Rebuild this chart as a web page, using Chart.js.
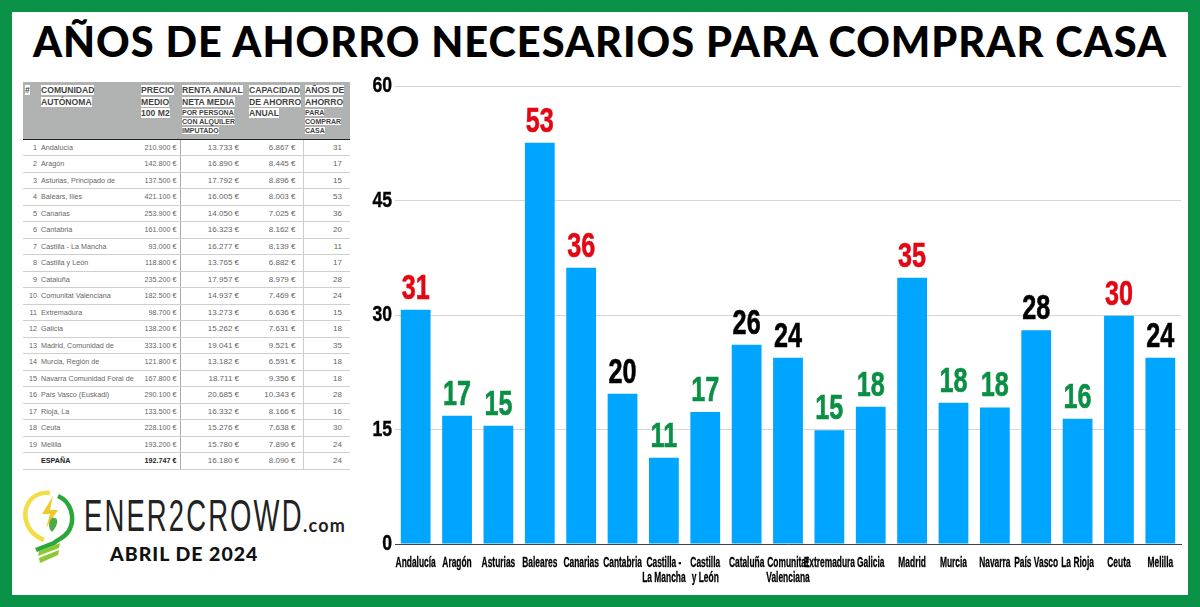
<!DOCTYPE html>
<html lang="es"><head><meta charset="utf-8">
<script src="https://cdn.jsdelivr.net/npm/chart.js@4"></script>
<style>
html,body{margin:0;padding:0;background:#fff}
#frame{position:relative;width:1200px;height:607px;box-sizing:border-box;border:solid #0a9348;border-width:12px 12px 12px 12px;overflow:hidden;background:#fff}
#page{position:absolute;left:-12px;top:-12px;width:1200px;height:607px}
h1{position:absolute;left:0;width:1200px;top:15px;margin:0;text-align:center;font:900 41.5px/52px Lato,sans-serif;letter-spacing:1px;color:#000;white-space:nowrap}
table{position:absolute;left:23px;top:82px;width:327px;table-layout:fixed;border-collapse:collapse;font-family:"Liberation Sans",sans-serif;color:#666;font-size:7.2px}
thead th{background:#b1b3b3;height:57px;padding:3px 0 0 2px;vertical-align:top;text-align:left;font-size:8.6px;line-height:11.5px;font-weight:700;color:#444;border-bottom:1px solid #222;box-sizing:border-box}
thead span{background:#fff;box-decoration-break:clone;-webkit-box-decoration-break:clone}
thead small{font-size:7px;line-height:9px;display:block}
tbody td{height:16.5px;padding:0;border-bottom:1px solid #cfcfcf;box-sizing:border-box;text-align:right;white-space:nowrap;overflow:hidden}
tbody td.n{text-align:left;padding-left:2px}
tbody td.a{padding-right:2px}
tbody td.p{padding-right:3px}
tbody td.r{padding-right:8px;border-left:1px solid #aaa;font-size:8px}
tbody td.c{padding-right:7px;font-size:8px}
tbody td.y{padding-right:8px;border-left:1px solid #ccc;font-size:8px}
tr.tot td{font-weight:400;border-top:1px solid #666}
tr.tot td.n,tr.tot td.p{font-weight:700;color:#222}
#chartbox{position:absolute;left:360px;top:70px;width:830px;height:520px}
#brand{position:absolute;left:84px;top:491px;font:400 45px/50px "Liberation Sans",sans-serif;letter-spacing:3.5px;color:#222;white-space:nowrap;transform-origin:0 0;transform:scaleX(.61)}
#dom{position:absolute;left:303px;top:515px;font:700 18px/20px Lato,sans-serif;letter-spacing:1.2px;color:#222}
#date{position:absolute;left:110px;top:543px;font:900 19.5px/22px Lato,sans-serif;letter-spacing:1px;color:#111}
svg{position:absolute;left:22px;top:488px}
</style></head><body>
<div id="frame"><div id="page">
<h1>AÑOS DE AHORRO NECESARIOS PARA COMPRAR CASA</h1>
<table id="t"><colgroup><col style="width:16px"><col style="width:100px"><col style="width:41px"><col style="width:67px"><col style="width:56px"><col style="width:47px"></colgroup>
<thead><tr>
<th><span>#</span></th>
<th><span>COMUNIDAD<br>AUTÓNOMA</span></th>
<th><span>PRECIO<br>MEDIO<br>100 M2</span></th>
<th><span>RENTA ANUAL<br>NETA MEDIA</span><small><span>POR PERSONA<br>CON ALQUILER<br>IMPUTADO</span></small></th>
<th><span>CAPACIDAD<br>DE AHORRO<br>ANUAL</span></th>
<th><span>AÑOS DE<br>AHORRO</span><small><span>PARA<br>COMPRAR<br>CASA</span></small></th>
</tr></thead><tbody id="tb"></tbody></table>
<svg width="56" height="78" viewBox="0 0 56 78" aria-hidden="true">
<path d="M22 52 C6 46 0 30 5 18 C9 8 18 4 28 5" fill="none" stroke="#f3dc45" stroke-width="4.5"/>
<path d="M36 8 C50 14 54 32 46 44 C42 50 36 51 32 55 L14 62" fill="none" stroke="#2aa63a" stroke-width="4.5"/>
<path d="M17 63 L38 55 L37 60 L16 68 Z M17 70 L37 62 L36 67 L18 75 Z" fill="#8cc832"/>
<path d="M31 8 L20 26 L28 26 L24 40 L36 22 L28 22 Z" fill="#f0c92c"/>
<path d="M30 30 C38 28 36 38 30 44 C26 40 26 34 30 30 Z" fill="#4cab45"/>
</svg>
<div id="brand">ENER2CROWD</div><div id="dom">.com</div>
<div id="date">ABRIL DE 2024</div>
<div id="chartbox"><canvas id="c"></canvas></div>
</div></div>
<script>
const categories=["Andalucía","Aragón","Asturias","Baleares","Canarias","Cantabria",["Castilla -","La Mancha"],["Castilla","y León"],"Cataluña",["Comunitat","Valenciana"],"Extremadura","Galicia","Madrid","Murcia","Navarra","País Vasco","La Rioja","Ceuta","Melilla"];
const values=[30.7,16.8,15.5,52.6,36.2,19.7,11.3,17.3,26.1,24.4,14.9,18.0,34.9,18.5,17.9,28.0,16.4,29.9,24.4];
const valueLabels=["31","17","15","53","36","20","11","17","26","24","15","18","35","18","18","28","16","30","24"];
const labelColors=["#e30613","#0a8f45","#0a8f45","#e30613","#e30613","#000","#0a8f45","#0a8f45","#000","#000","#0a8f45","#0a8f45","#e30613","#0a8f45","#0a8f45","#000","#0a8f45","#e30613","#000"];
const yTicks=[0,15,30,45,60];
const tableNames=["Andalucía","Aragón","Asturias, Principado de","Balears, Illes","Canarias","Cantabria","Castilla - La Mancha","Castilla y León","Cataluña","Comunitat Valenciana","Extremadura","Galicia","Madrid, Comunidad de","Murcia, Región de","Navarra Comunidad Foral de","País Vasco (Euskadi)","Rioja, La","Ceuta","Melilla"];
const tablePrice=["210.900 €","142.800 €","137.500 €","421.100 €","253.900 €","161.000 €","93.000 €","118.800 €","235.200 €","182.500 €","98.700 €","138.200 €","333.100 €","121.800 €","167.800 €","290.100 €","133.500 €","228.100 €","193.200 €"];
const tableIncome=["13.733 €","16.890 €","17.792 €","16.005 €","14.050 €","16.323 €","16.277 €","13.765 €","17.957 €","14.937 €","13.273 €","15.262 €","19.041 €","13.182 €","18.711 €","20.685 €","16.332 €","15.276 €","15.780 €"];
const tableSaving=["6.867 €","8.445 €","8.896 €","8.003 €","7.025 €","8.162 €","8.139 €","6.882 €","8.979 €","7.469 €","6.636 €","7.631 €","9.521 €","6.591 €","9.356 €","10.343 €","8.166 €","7.638 €","7.890 €"];
const tableYears=["31","17","15","53","36","20","11","17","28","24","15","18","35","18","18","28","16","30","24"];
const totalRow=["","ESPAÑA","192.747 €","16.180 €","8.090 €","24"];

const cls=["a","n","p","r","c","y"];
const rowHtml=(cells,k)=>`<tr class="${k}">`+cells.map((v,i)=>`<td class="${cls[i]}">${v}</td>`).join("")+"</tr>";
document.getElementById("tb").innerHTML=tableNames.map((n,i)=>rowHtml([i+1,n,tablePrice[i],tableIncome[i],tableSaving[i],tableYears[i]],"")).join("")+rowHtml(totalRow,"tot");

const FONT='"Liberation Sans",sans-serif';
// The reference uses a very condensed face: squeeze the axis labels horizontally while the library draws them.
function condense(scale,sx,weight){
  const orig=scale.drawLabels;
  scale.drawLabels=function(area){
    const ctx=this.ctx,fill=ctx.fillText;
    ctx.fillText=function(t,x,y,m){this.save();this.scale(sx,1);this.lineWidth=weight;this.strokeStyle=this.fillStyle;this.strokeText(t,x,y);fill.call(this,t,x,y);this.restore();};
    orig.call(this,area);
    delete ctx.fillText;
  };
}
const barLabels={id:"barLabels",
 beforeDraw(chart){ if(!chart.$cond){chart.$cond=1;condense(chart.scales.x,.6,.3);condense(chart.scales.y,.8,.4);} },
 afterDatasetsDraw(chart){
  const ctx=chart.ctx,meta=chart.getDatasetMeta(0);
  ctx.save();ctx.textAlign="center";ctx.textBaseline="alphabetic";
  ctx.font='bold 35px '+FONT;
  meta.data.forEach((b,i)=>{ctx.fillStyle=labelColors[i];ctx.strokeStyle=labelColors[i];ctx.lineWidth=.6;
    ctx.save();ctx.translate(b.x,b.y-11);ctx.scale(.72,1);ctx.fillText(valueLabels[i],0,0);ctx.strokeText(valueLabels[i],0,0);ctx.restore();});
  ctx.restore();}};

new Chart(document.getElementById("c"),{type:"bar",
 data:{labels:categories,datasets:[{data:values,backgroundColor:"#00a5ff",borderWidth:0,categoryPercentage:1,barPercentage:.72}]},
 plugins:[barLabels],
 options:{responsive:true,maintainAspectRatio:false,animation:false,
  layout:{padding:{top:16,right:9,left:0,bottom:0}},
  plugins:{legend:{display:false},tooltip:{enabled:false},title:{display:false}},
  scales:{
   x:{afterFit(s){s.height=46},border:{color:"#444",width:1},grid:{display:false},
      ticks:{autoSkip:false,maxRotation:0,minRotation:0,padding:4,color:"#000",font:{family:FONT,weight:"bold",size:14,lineHeight:1.05}}},
   y:{min:0,max:60,afterFit(s){s.width=35},afterBuildTicks(s){s.ticks=yTicks.map(v=>({value:v}))},
      border:{display:false},grid:{color:"#d6d6d6",lineWidth:1,drawTicks:false},
      ticks:{padding:3,color:"#000",font:{family:FONT,weight:"bold",size:22}}}
  }}});
</script></body></html>
